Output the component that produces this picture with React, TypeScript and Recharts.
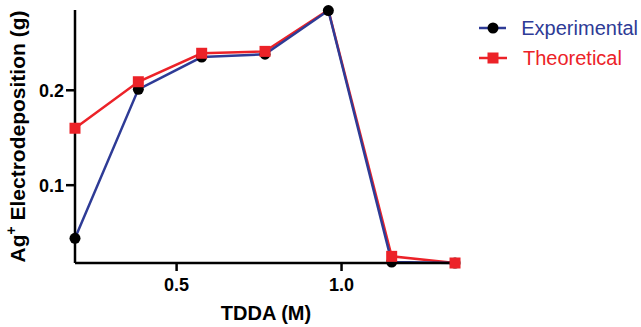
import { LineChart, Line, XAxis, YAxis, Legend, Label } from "recharts";

const tdda = [0.192, 0.384, 0.576, 0.768, 0.96, 1.152, 1.344];
const experimental = [0.044, 0.201, 0.235, 0.238, 0.284, 0.019, 0.018];
const theoretical = [0.16, 0.209, 0.239, 0.241, 0.2846, 0.025, 0.018];
const xTicks = [0.5, 1.0];
const yTicks = [0.1, 0.2];

const X_DOMAIN: [number, number] = [0.192, 1.35];
const Y_DOMAIN: [number, number] = [0.018, 0.2846];

const BLUE = "#2e3b96";
const RED = "#ec2228";
const FONT = "'Liberation Sans', Arial, sans-serif";

const data = tdda.map((x, i) => ({ x, exp: experimental[i], theo: theoretical[i] }));

const series = [
  { name: "Experimental", color: BLUE, marker: "circle" },
  { name: "Theoretical", color: RED, marker: "square" },
];

// the theoretical marker at the top edge sits off the axis in the original, so skip it
function SquareDot(props: any) {
  const { cx, cy, payload, index } = props;
  if (cx == null || cy == null || payload.theo >= Y_DOMAIN[1]) return <g key={`sq-${index}`} />;
  return <rect key={`sq-${index}`} x={cx - 5.5} y={cy - 5.5} width={11} height={11} fill={RED} />;
}

function CircleDot(props: any) {
  const { cx, cy, index } = props;
  if (cx == null || cy == null) return <g key={`c-${index}`} />;
  return <circle key={`c-${index}`} cx={cx} cy={cy} r={5.5} fill="#000" />;
}

function YTitle(props: any) {
  const vb = props.viewBox || {};
  const cy = vb.y + vb.height / 2;
  const x = 25;
  return (
    <text
      x={x}
      y={cy}
      transform={`rotate(-90 ${x} ${cy})`}
      textAnchor="middle"
      fontFamily={FONT}
      fontWeight="bold"
      fontSize={21}
      fill="#000"
    >
      Ag<tspan fontSize={14} dy={-9}>+</tspan>
      <tspan dy={9}> Electrodeposition (g)</tspan>
    </text>
  );
}

function LegendBox() {
  return (
    <div style={{ fontFamily: FONT, fontSize: 20 }}>
      {series.map((s) => (
        <div key={s.name} style={{ display: "flex", alignItems: "center", height: 30 }}>
          <svg width={30} height={14} style={{ marginRight: 15 }}>
            <line x1={1} y1={7} x2={29} y2={7} stroke={s.color} strokeWidth={2.5} />
            {s.marker === "circle" ? (
              <circle cx={15} cy={7} r={5.5} fill="#000" />
            ) : (
              <rect x={9.5} y={1.5} width={11} height={11} fill={RED} />
            )}
          </svg>
          <span style={{ color: s.color }}>{s.name}</span>
        </div>
      ))}
    </div>
  );
}

export default function App() {
  return (
    <div style={{ position: "absolute", left: 0, top: 0, width: 641, height: 327, background: "#fff" }}>
      <LineChart width={641} height={327} data={data} margin={{ top: 10, right: 184, bottom: 0, left: 0 }}>
        <XAxis
          dataKey="x"
          type="number"
          domain={X_DOMAIN}
          ticks={xTicks}
          tickFormatter={(v: number) => v.toFixed(1)}
          axisLine={{ stroke: "#000", strokeWidth: 2.5 }}
          tickLine={{ stroke: "#000", strokeWidth: 2.5 }}
          tickSize={8}
          tickMargin={7}
          tick={{ fill: "#000", fontFamily: FONT, fontWeight: "bold", fontSize: 18 }}
          height={64}
        >
          <Label
            value="TDDA (M)"
            position="insideBottom"
            offset={7}
            style={{ fill: "#000", fontFamily: FONT, fontWeight: "bold", fontSize: 20 }}
          />
        </XAxis>
        <YAxis
          type="number"
          domain={Y_DOMAIN}
          ticks={yTicks}
          tickFormatter={(v: number) => v.toFixed(1)}
          axisLine={{ stroke: "#000", strokeWidth: 2.5 }}
          tickLine={{ stroke: "#000", strokeWidth: 2.5 }}
          tickSize={9}
          tickMargin={2}
          tick={{ fill: "#000", fontFamily: FONT, fontWeight: "bold", fontSize: 18 }}
          width={75}
          label={<YTitle />}
        />
        <Legend
          layout="vertical"
          align="center"
          verticalAlign="middle"
          wrapperStyle={{ left: 478, top: 13, width: 160, height: 0, overflow: "visible" }}
          content={<LegendBox />}
        />
        <Line
          dataKey="theo"
          stroke={RED}
          strokeWidth={2.5}
          dot={false}
          activeDot={false}
          legendType="none"
          isAnimationActive={false}
        />
        <Line
          dataKey="exp"
          name="Experimental"
          stroke={BLUE}
          strokeWidth={2.5}
          dot={<CircleDot />}
          activeDot={false}
          isAnimationActive={false}
        />
        <Line
          dataKey="theo"
          name="Theoretical"
          stroke="none"
          strokeWidth={0}
          dot={<SquareDot />}
          activeDot={false}
          isAnimationActive={false}
        />
      </LineChart>
    </div>
  );
}
